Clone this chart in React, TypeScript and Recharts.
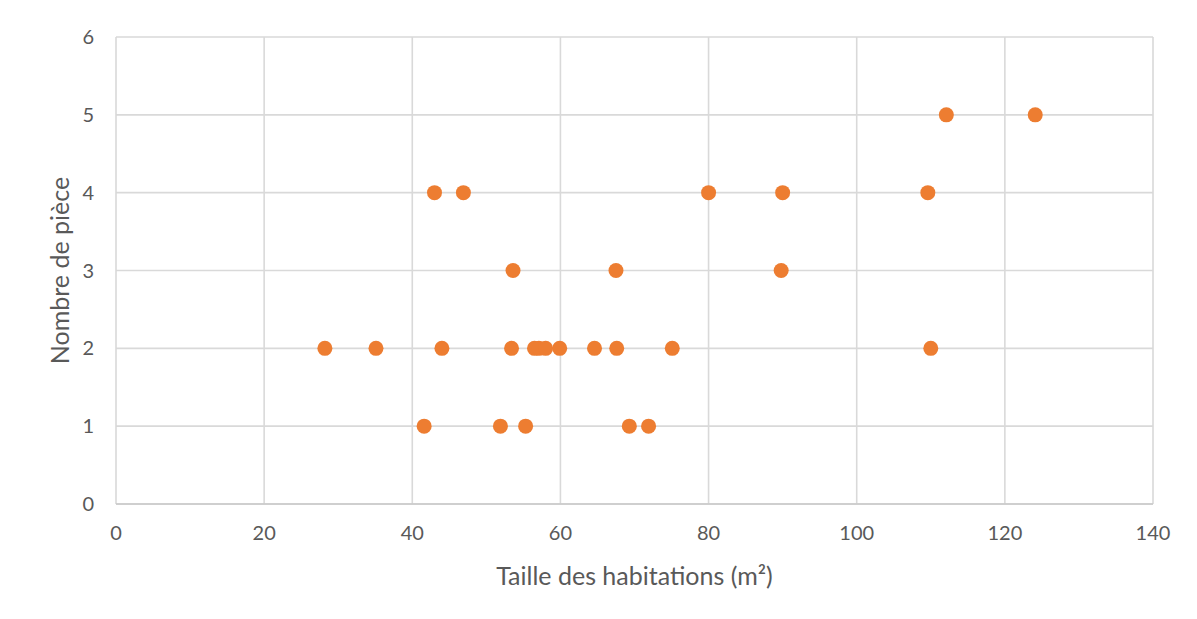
import React from "react";
import {
  ScatterChart, Scatter, XAxis, YAxis, CartesianGrid, Label
} from "recharts";

// surface (m²) and room count
const sizes = [
  28.2, 35.1, 44.0, 53.4, 56.5, 57.1, 58.0, 59.9, 64.6, 67.6, 75.1, 110.0,
  41.6, 51.9, 55.3, 69.3, 71.9,
  53.6, 67.5, 89.8,
  43.0, 46.9, 80.0, 90.0, 109.6,
  112.1, 124.1,
];
const rooms = [
  2, 2, 2, 2, 2, 2, 2, 2, 2, 2, 2, 2,
  1, 1, 1, 1, 1,
  3, 3, 3,
  4, 4, 4, 4, 4,
  5, 5,
];
const xTicks = [0, 20, 40, 60, 80, 100, 120, 140];
const yTicks = [0, 1, 2, 3, 4, 5, 6];

const data = sizes.map((s, i) => ({ x: s, y: rooms[i] }));

const FONT = "Lato, 'Open Sans', sans-serif";
const TEXT = "#595959";
const GRID = "#d9d9d9";
const DOT = "#ED7D31";

function Dot(props: { cx?: number; cy?: number }) {
  if (props.cx == null || props.cy == null) return null;
  return <circle cx={props.cx} cy={props.cy} r={7.5} fill={DOT} />;
}

export default function App() {
  return (
    <div
      style={{
        position: "relative",
        marginLeft: -1,
        marginTop: -1,
        width: 1190,
        height: 612,
        borderLeft: `1px solid ${GRID}`,
        borderTop: `1px solid ${GRID}`,
        fontFamily: FONT,
      }}
    >
      <ScatterChart
        width={1183}
        height={611}
        margin={{ top: 29, right: 38, left: 30, bottom: 35 }}
      >
        <CartesianGrid stroke={GRID} strokeWidth={1.6} />
        <XAxis
          type="number"
          dataKey="x"
          domain={[0, 140]}
          ticks={xTicks}
          interval={0}
          axisLine={{ stroke: "#c8c8c8", strokeWidth: 1.6 }}
          tickLine={false}
          tickMargin={16}
          height={80}
          tick={{ fill: TEXT, fontSize: 20, fontFamily: FONT }}
        >
          <Label
            value="Taille des habitations (m²)"
            position="insideBottom"
            offset={-1}
            style={{ fill: TEXT, fontSize: 25, fontFamily: FONT }}
          />
        </XAxis>
        <YAxis
          type="number"
          dataKey="y"
          domain={[0, 6]}
          ticks={yTicks}
          interval={0}
          axisLine={false}
          tickLine={false}
          tickMargin={16}
          width={78}
          tick={{ fill: TEXT, fontSize: 20, fontFamily: FONT }}
        >
          <Label
            value="Nombre de pièce"
            angle={-90}
            position="insideLeft"
            offset={22}
            style={{ fill: TEXT, fontSize: 25, fontFamily: FONT, textAnchor: "middle" }}
          />
        </YAxis>
        <Scatter data={data} shape={<Dot />} isAnimationActive={false} />
      </ScatterChart>
    </div>
  );
}
